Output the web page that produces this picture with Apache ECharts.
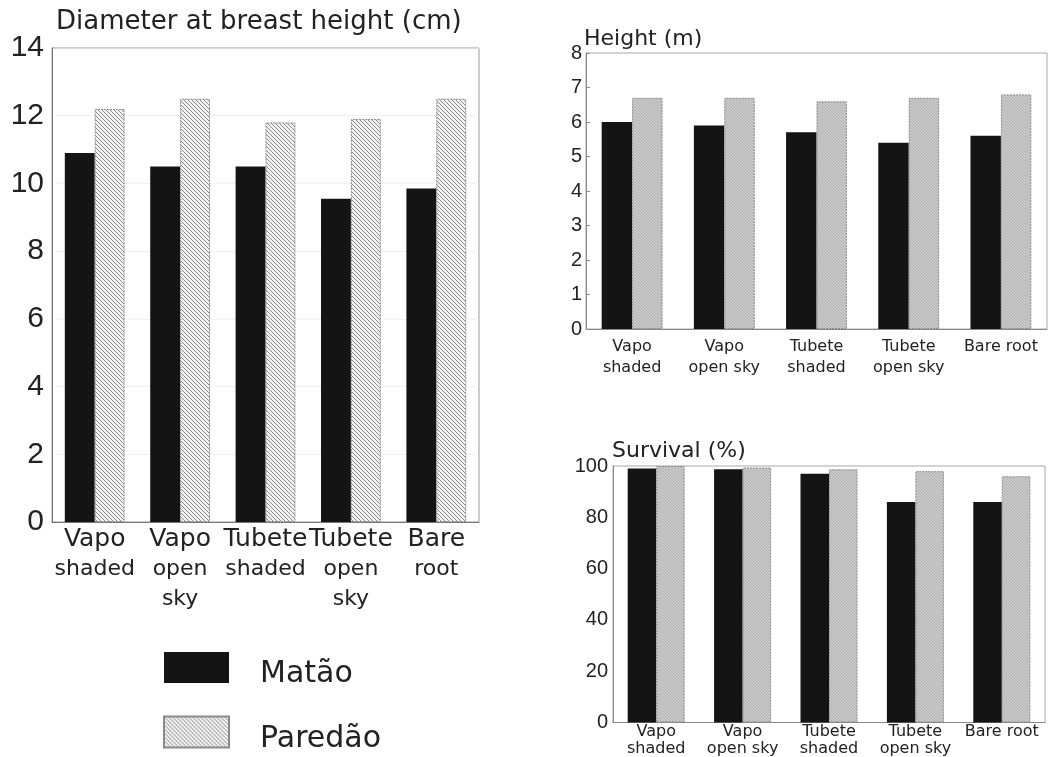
<!DOCTYPE html>
<html>
<head>
<meta charset="utf-8">
<script src="https://cdn.jsdelivr.net/npm/echarts@6/dist/echarts.min.js"></script>
<style>
  html, body { margin: 0; padding: 0; background: #fff; }
  #chart { width: 1058px; height: 757px; }
</style>
</head>
<body>
<div id="chart"></div>
<script>
// ---- Data ----
const seriesNames = ['Matão', 'Paredão'];

const dbhCategories = ['Vapo\nshaded', 'Vapo\nopen\nsky', 'Tubete\nshaded', 'Tubete\nopen\nsky', 'Bare\nroot'];
const dbhMatao   = [10.9, 10.5, 10.5, 9.55, 9.85];
const dbhParedao = [12.2, 12.5, 11.8, 11.9, 12.5];

const smallCategories = ['Vapo\nshaded', 'Vapo\nopen sky', 'Tubete\nshaded', 'Tubete\nopen sky', 'Bare root'];
const heightMatao   = [6.0, 5.9, 5.7, 5.4, 5.6];
const heightParedao = [6.7, 6.7, 6.6, 6.7, 6.8];

const survivalMatao   = [99, 98.7, 97, 86, 86];
const survivalParedao = [100, 99.4, 98.7, 98, 96];

const titles = ['Diameter at breast height (cm)', 'Height (m)', 'Survival (%)'];

// ---- Patterns ----
function makeHatch(bg, fg, size, lw) {
  const c = document.createElement('canvas');
  c.width = size; c.height = size;
  const ctx = c.getContext('2d');
  ctx.fillStyle = bg;
  ctx.fillRect(0, 0, size, size);
  ctx.strokeStyle = fg;
  ctx.lineWidth = lw;
  ctx.beginPath();
  for (let k = -1; k <= 1; k++) {
    ctx.moveTo(-1, k * size - 1);
    ctx.lineTo(size + 1, k * size + size + 1);
  }
  ctx.stroke();
  return c;
}
const hatchBig = { image: makeHatch('#f2f2f2', '#8e8e8e', 4, 1), repeat: 'repeat' };
const hatchSmall = { image: makeHatch('#c8c8c8', '#b4b4b4', 3, 1), repeat: 'repeat' };

const WORD_FONT = 'DejaVu Sans';
const NUM_FONT = 'Liberation Sans';
const TXT = '#222';

function richFormatter(v) {
  const parts = v.split('\n');
  return parts.map((p, i) => (i === 0 ? '{a|' + p + '}' : '{b|' + p + '}')).join('\n');
}

const chart = echarts.init(document.getElementById('chart'), null, { renderer: 'canvas' });

const matBar = { color: '#141414' };
function parBar(fill) {
  return { color: fill, borderColor: '#8a8a8a', borderWidth: 1, borderType: [2, 1] };
}

const option = {
  backgroundColor: '#fff',
  animation: false,
  title: [
    { text: titles[0], left: 56, top: 7, padding: 0,
      textStyle: { fontFamily: WORD_FONT, fontSize: 26, fontWeight: 'normal', color: TXT, lineHeight: 30 } },
    { text: titles[1], left: 584, top: 26, padding: 0,
      textStyle: { fontFamily: WORD_FONT, fontSize: 22, fontWeight: 'normal', color: TXT, lineHeight: 26 } },
    { text: titles[2], left: 612, top: 438, padding: 0,
      textStyle: { fontFamily: WORD_FONT, fontSize: 22, fontWeight: 'normal', color: TXT, lineHeight: 26 } }
  ],
  legend: {
    data: seriesNames,
    orient: 'vertical',
    left: 163, top: 647,
    itemWidth: 65, itemHeight: 31,
    itemGap: 22,
    icon: 'rect',
    padding: 0,
    selectedMode: false,
    formatter: '{s| }\n{t|{name}}',
    textStyle: { fontFamily: WORD_FONT, fontSize: 30, color: TXT, padding: [0, 0, 0, 26],
      rich: {
        s: { fontFamily: WORD_FONT, fontSize: 10, lineHeight: 14 },
        t: { fontFamily: WORD_FONT, fontSize: 30, lineHeight: 31, color: TXT }
      } }
  },
  grid: [
    { left: 52, top: 48, width: 427, height: 474, show: true, borderColor: '#9a9a9a', borderWidth: 1, backgroundColor: 'transparent' },
    { left: 586, top: 53, width: 461, height: 276, show: true, borderColor: '#a8a8a8', borderWidth: 1, backgroundColor: 'transparent' },
    { left: 613, top: 466, width: 432, height: 257, show: true, borderColor: '#a8a8a8', borderWidth: 1, backgroundColor: 'transparent' }
  ],
  xAxis: [
    { type: 'category', gridIndex: 0, data: dbhCategories,
      axisLine: { lineStyle: { color: '#777' } }, axisTick: { show: false },
      axisLabel: { interval: 0, margin: 2, formatter: richFormatter, color: TXT,
        rich: { a: { fontFamily: WORD_FONT, fontSize: 25, lineHeight: 30, color: TXT },
                b: { fontFamily: WORD_FONT, fontSize: 22, lineHeight: 30, color: TXT } } } },
    { type: 'category', gridIndex: 1, data: smallCategories,
      axisLine: { lineStyle: { color: '#888' } }, axisTick: { show: false },
      axisLabel: { interval: 0, margin: 7, formatter: richFormatter, color: TXT,
        rich: { a: { fontFamily: WORD_FONT, fontSize: 16, lineHeight: 21, color: TXT },
                b: { fontFamily: WORD_FONT, fontSize: 16, lineHeight: 21, color: TXT } } } },
    { type: 'category', gridIndex: 2, data: smallCategories,
      axisLine: { lineStyle: { color: '#888' } }, axisTick: { show: false },
      axisLabel: { interval: 0, margin: 1, formatter: richFormatter, color: TXT,
        rich: { a: { fontFamily: WORD_FONT, fontSize: 16, lineHeight: 17, color: TXT },
                b: { fontFamily: WORD_FONT, fontSize: 16, lineHeight: 17, color: TXT } } } }
  ],
  yAxis: [
    { type: 'value', gridIndex: 0, min: 0, max: 14, interval: 2,
      axisLine: { show: true, lineStyle: { color: '#777' } }, axisTick: { show: false },
      splitLine: { show: true, lineStyle: { color: '#e6e6e6', type: 'dotted' } },
      axisLabel: { fontFamily: NUM_FONT, fontSize: 30, color: TXT, margin: 8 } },
    { type: 'value', gridIndex: 1, min: 0, max: 8, interval: 1,
      axisLine: { show: true, lineStyle: { color: '#888' } },
      axisTick: { show: true, inside: true, length: 4, lineStyle: { color: '#888' } },
      splitLine: { show: false },
      axisLabel: { fontFamily: NUM_FONT, fontSize: 20, color: TXT, margin: 4 } },
    { type: 'value', gridIndex: 2, min: 0, max: 100, interval: 20,
      axisLine: { show: true, lineStyle: { color: '#888' } }, axisTick: { show: false },
      splitLine: { show: false },
      axisLabel: { fontFamily: NUM_FONT, fontSize: 20, color: TXT, margin: 5 } }
  ],
  series: [
    { name: seriesNames[0], type: 'bar', xAxisIndex: 0, yAxisIndex: 0, data: dbhMatao,
      barGap: '0%', barCategoryGap: '30%', itemStyle: matBar },
    { name: seriesNames[1], type: 'bar', xAxisIndex: 0, yAxisIndex: 0, data: dbhParedao,
      barGap: '0%', barCategoryGap: '30%', itemStyle: parBar(hatchBig) },
    { name: seriesNames[0], type: 'bar', xAxisIndex: 1, yAxisIndex: 1, data: heightMatao,
      barGap: '0%', barCategoryGap: '34%', itemStyle: matBar },
    { name: seriesNames[1], type: 'bar', xAxisIndex: 1, yAxisIndex: 1, data: heightParedao,
      barGap: '0%', barCategoryGap: '34%', itemStyle: parBar(hatchSmall) },
    { name: seriesNames[0], type: 'bar', xAxisIndex: 2, yAxisIndex: 2, data: survivalMatao,
      barGap: '0%', barCategoryGap: '34%', itemStyle: matBar },
    { name: seriesNames[1], type: 'bar', xAxisIndex: 2, yAxisIndex: 2, data: survivalParedao,
      barGap: '0%', barCategoryGap: '34%', itemStyle: parBar(hatchSmall) }
  ]
};
chart.setOption(option);
</script>
</body>
</html>
